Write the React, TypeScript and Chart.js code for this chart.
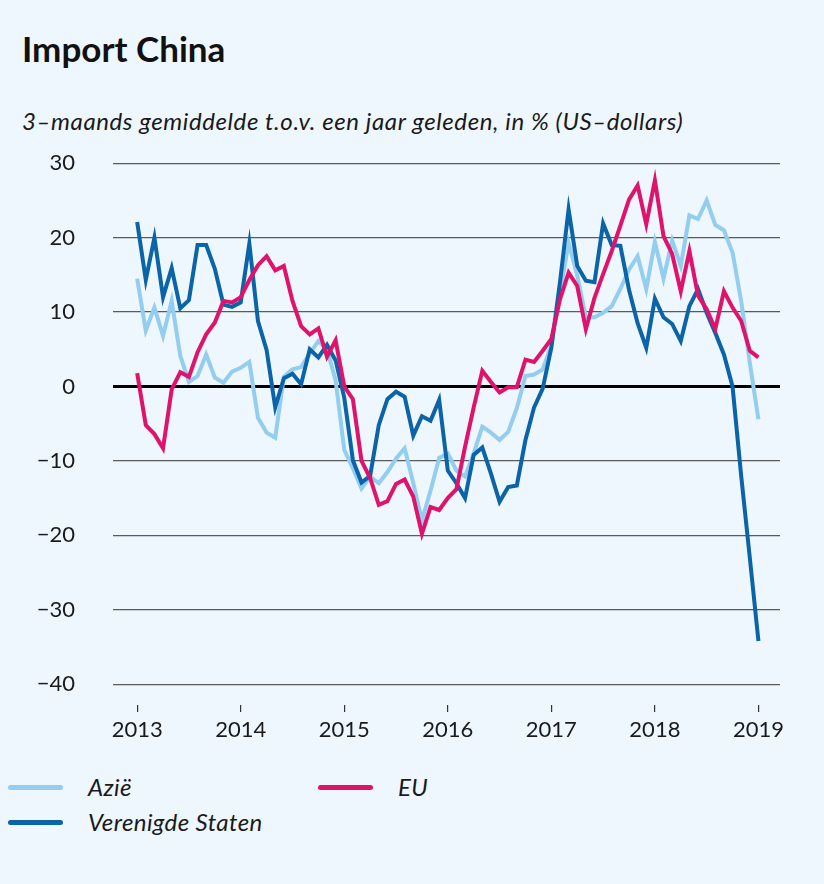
import React, { useEffect, useRef } from 'react';
import { Chart, registerables } from 'chart.js';

Chart.register(...registerables);

// Monthly, Jan 2013 .. Jan 2019 (73 points)
const years = ['2013', '2014', '2015', '2016', '2017', '2018', '2019'];
const yTicks = [-40, -30, -20, -10, 0, 10, 20, 30];

const azie = [
  14.5, 7.5, 10.6, 6.8, 11.5, 4.1, 0.6, 1.4, 4.3, 1.2, 0.5, 2.0,
  2.5, 3.3, -4.2, -6.2, -6.9, 1.3, 2.3, 2.6, 4.4, 6.1, 5.0, 0.8,
  -8.5, -11.0, -13.7, -12.1, -13.0, -11.5, -9.7, -8.3, -13.0, -18.0, -14.0, -9.6,
  -9.0, -11.3, -12.1, -9.0, -5.4, -6.2, -7.2, -6.1, -2.9, 1.4, 1.6, 2.3,
  5.5, 12.6, 19.3, 14.9, 9.3, 9.3, 9.9, 10.8, 13.1, 15.7, 17.5, 13.1,
  19.4, 14.5, 19.6, 16.2, 23.0, 22.5, 25.0, 21.7, 21.0, 18.0, 11.5, 3.2,
  -4.4,
];

const verenigdeStaten = [
  22.1, 14.3, 20.0, 12.0, 15.9, 10.5, 11.6, 19.0, 19.0, 15.8, 11.0, 10.7,
  11.3, 19.2, 8.8, 4.9, -2.8, 1.1, 1.7, 0.3, 5.0, 3.9, 5.6, 3.5,
  -1.5, -9.9, -12.9, -12.0, -5.2, -1.7, -0.7, -1.4, -6.6, -4.0, -4.6, -1.8,
  -11.3, -13.0, -15.0, -9.2, -8.2, -11.7, -15.5, -13.5, -13.3, -7.2, -2.8, -0.3,
  5.2, 14.0, 23.8, 16.2, 14.2, 14.0, 21.9, 19.0, 18.9, 13.0, 8.5, 5.2,
  11.8, 9.3, 8.4, 6.1, 10.8, 13.1, 9.9, 7.2, 4.3, 0.0, -12.0, -23.0,
  -34.2,
];

const eu = [
  1.8, -5.2, -6.4, -8.3, -0.4, 1.9, 1.3, 4.6, 7.0, 8.6, 11.5, 11.3,
  12.0, 14.3, 16.3, 17.5, 15.6, 16.2, 11.5, 8.1, 7.0, 7.8, 4.0, 6.2,
  0.0, -1.7, -10.0, -12.3, -15.9, -15.4, -13.1, -12.5, -14.8, -19.8, -16.2, -16.6,
  -15.0, -13.8, -8.1, -2.8, 2.1, 0.6, -0.8, -0.1, -0.1, 3.6, 3.3, 4.8,
  6.4, 11.7, 15.3, 13.5, 7.7, 11.9, 15.1, 18.2, 21.6, 25.1, 27.0, 21.8,
  27.7, 20.2, 17.8, 12.8, 18.2, 12.2, 10.4, 7.7, 12.8, 10.6, 8.8, 4.8,
  3.9,
];

const BG = '#EEF7FD';
const C_AZIE = '#93CDEF';
const C_VS = '#0B63A8';
const C_EU = '#E0136C';
const FONT = 'Lato, "Open Sans", sans-serif';
const TEXT = '#1a1a1a';

const toPts = (arr: number[]) => arr.map((v, i) => ({ x: i, y: v }));
const fmtY = (v: number) => (v < 0 ? '\u2212' + Math.abs(v) : String(v));

export default function App() {
  const ref = useRef<HTMLCanvasElement | null>(null);

  useEffect(() => {
    document.body.style.margin = '0';
    document.body.style.background = BG;
    const canvas = ref.current;
    if (!canvas) return;
    const lineDs = (label: string, data: number[], color: string, order: number) => ({
      label,
      data: toPts(data),
      borderColor: color,
      backgroundColor: color,
      borderWidth: 4,
      pointRadius: 0,
      tension: 0,
      fill: false,
      order,
    });
    const chart = new Chart(canvas, {
      type: 'line',
      data: {
        datasets: [
          lineDs('EU', eu, C_EU, 1),
          lineDs('Verenigde Staten', verenigdeStaten, C_VS, 2),
          lineDs('Azië', azie, C_AZIE, 3),
        ],
      },
      options: {
        animation: false,
        responsive: false,
        maintainAspectRatio: false,
        layout: { padding: { top: 23, right: 44, left: 0, bottom: 0 } },
        plugins: { legend: { display: false }, tooltip: { enabled: false }, title: { display: false } },
        scales: {
          x: {
            type: 'linear',
            min: -2.8,
            max: 74.5,
            afterBuildTicks: (s: any) => {
              s.ticks = years.map((_, i) => ({ value: i * 12 }));
            },
            afterFit: (s: any) => {
              s.height = 55;
            },
            ticks: {
              callback: (v: any) => years[Math.round(Number(v) / 12)],
              font: { family: FONT, size: 22 },
              color: TEXT,
              padding: 5,
              maxRotation: 0,
              autoSkip: false,
            },
            grid: {
              drawOnChartArea: false,
              drawTicks: true,
              tickLength: 7,
              color: '#333',
              lineWidth: 1.2,
            },
            border: { display: false },
          },
          y: {
            min: -42.8,
            max: 30,
            afterBuildTicks: (s: any) => {
              s.ticks = yTicks.map((v) => ({ value: v }));
            },
            afterFit: (s: any) => {
              s.width = 113;
            },
            ticks: {
              callback: (v: any) => fmtY(Number(v)),
              font: { family: FONT, size: 22 },
              color: TEXT,
              padding: 38,
            },
            grid: {
              drawTicks: false,
              color: (ctx: any) => (ctx.tick && ctx.tick.value === 0 ? '#000000' : '#5a5a5a'),
              lineWidth: (ctx: any) => (ctx.tick && ctx.tick.value === 0 ? 3 : 1.3),
            },
            border: { display: false },
          },
        },
      },
    } as any);
    return () => chart.destroy();
  }, []);

  const legendLine = (color: string): React.CSSProperties => ({
    position: 'absolute',
    width: 55,
    height: 5,
    borderRadius: 3,
    background: color,
  });
  const legendText: React.CSSProperties = {
    position: 'absolute',
    fontFamily: FONT,
    fontStyle: 'italic',
    fontSize: 24,
    letterSpacing: 0.4,
    color: TEXT,
    whiteSpace: 'nowrap',
  };

  return (
    <div style={{ position: 'relative', width: 824, height: 884, background: BG, overflow: 'hidden' }}>
      <div
        style={{
          position: 'absolute',
          left: 22,
          top: 27,
          fontFamily: FONT,
          fontWeight: 700,
          fontSize: 35,
          color: '#111',
          whiteSpace: 'nowrap',
        }}
      >
        Import China
      </div>
      <div
        style={{
          position: 'absolute',
          left: 22,
          top: 106,
          fontFamily: FONT,
          fontStyle: 'italic',
          fontSize: 24,
          letterSpacing: 0.6,
          color: TEXT,
          whiteSpace: 'nowrap',
        }}
      >
        3–maands gemiddelde t.o.v. een jaar geleden, in % (US–dollars)
      </div>
      <canvas
        ref={ref}
        width={824}
        height={648}
        style={{ position: 'absolute', left: 0, top: 112, width: 824, height: 648 }}
      />
      <div style={{ ...legendLine(C_AZIE), left: 8, top: 785 }} />
      <div style={{ ...legendText, left: 88, top: 772 }}>Azië</div>
      <div style={{ ...legendLine(C_EU), left: 318, top: 785 }} />
      <div style={{ ...legendText, left: 398, top: 772 }}>EU</div>
      <div style={{ ...legendLine(C_VS), left: 8, top: 820 }} />
      <div style={{ ...legendText, left: 88, top: 807 }}>Verenigde Staten</div>
    </div>
  );
}
